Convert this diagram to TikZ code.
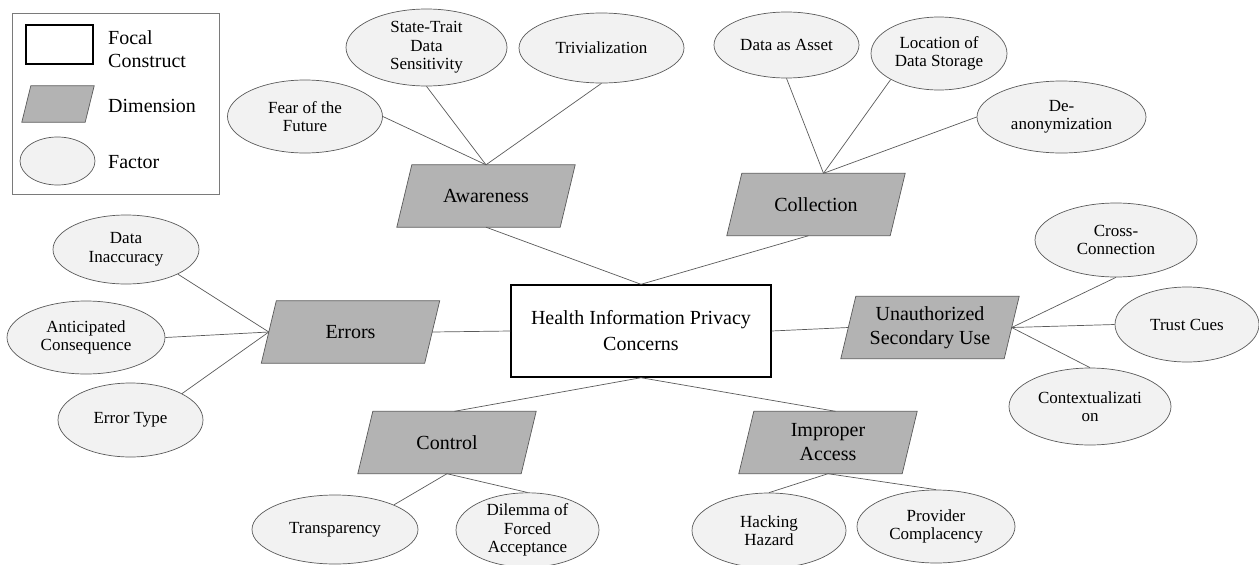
\documentclass[tikz,border=0pt]{standalone}
\usepackage{fontspec}
\setmainfont{Liberation Serif}
\usetikzlibrary{shapes.geometric,backgrounds}
\definecolor{dimfill}{HTML}{B3B3B3}
\definecolor{facfill}{HTML}{F2F2F2}
\definecolor{edgegray}{HTML}{5A5A5A}
\definecolor{framegray}{HTML}{7A7A7A}
% parallelogram behind a dimension node: #1 node name, #2 half of the slant offset
\newcommand\slantbox[2]{%
  \path[dimshape] ([xshift=-#2pt]#1.south west) -- ([xshift=#2pt]#1.north west)
    -- ([xshift=#2pt]#1.north east) -- ([xshift=-#2pt]#1.south east) -- cycle;}
\begin{document}
\begin{tikzpicture}[x=1pt,y=-1pt,
  sz/.style 2 args={minimum width=#1pt, minimum height=#2pt},
  dimension/.style={rectangle, inner sep=0pt, align=center,
    font=\fontsize{20}{24}\selectfont, sz={163}{62}},
  dimshape/.style={draw=edgegray, line width=0.7pt, fill=dimfill, line join=miter},
  factor/.style={ellipse, draw=edgegray, line width=0.7pt, fill=facfill,
    inner sep=0pt, align=center, font=\fontsize{17}{18.5}\selectfont},
  focal/.style={rectangle, draw=black, line width=1.4pt, fill=white, inner sep=0pt,
    align=center, font=\fontsize{20}{26}\selectfont},
  legtext/.style={anchor=west, align=left, inner sep=0pt, font=\fontsize{20}{23}\selectfont},
  link/.style={draw=edgegray, line width=0.7pt},
]
\useasboundingbox (0,0) rectangle (1259,565);

% legend
\node[draw=framegray, line width=0.8pt, sz={206.5}{181}, inner sep=0pt] (legend) at (115.75,103.5) {};
\node[focal, line width=1.2pt, sz={67}{39}] (leg-focal) at (59.5,44.5) {};
\node[dimension, sz={63}{36}] (leg-dim) at (58,104) {};
\node[factor, sz={75}{48}] (leg-fac) at (57.5,161) {};
\node[legtext] (leg-focal-t) at (108,49) {Focal\\Construct};
\node[legtext] (leg-dim-t) at (108,106) {Dimension};
\node[legtext] (leg-fac-t) at (108,162) {Factor};

% focal construct
\node[focal, sz={260}{92}] (hipc) at (641,331) {Health Information Privacy\\Concerns};

% dimensions
\node[dimension] (aw)   at (486,196)   {Awareness};
\node[dimension] (coll) at (816,204.5) {Collection};
\node[dimension] (err)  at (350.5,332) {Errors};
\node[dimension] (una)  at (930,327.5) {Unauthorized\\Secondary Use};
\node[dimension] (ctl)  at (447,442.5) {Control};
\node[dimension] (imp)  at (828,442.5) {Improper\\Access};

\begin{pgfonlayer}{background}
  \slantbox{leg-dim}{4.5}
  \foreach \d in {aw,coll,err,una,ctl,imp} {\slantbox{\d}{7.5}}
\end{pgfonlayer}

% factors
\node[factor, sz={155}{73}] (fear)    at (305,116.5)   {Fear of the\\Future};
\node[factor, sz={161}{77}] (state)   at (426.5,47.5)  {State-Trait\\Data\\Sensitivity};
\node[factor, sz={165}{70}] (triv)    at (601.5,48)    {Trivialization};
\node[factor, sz={145}{66}] (asset)   at (786.5,45)    {Data as Asset};
\node[factor, sz={136}{73}] (loc)     at (939,53.5)    {Location of\\Data Storage};
\node[factor, sz={169}{72}] (deanon)  at (1061.5,117)  {De-\\anonymization};
\node[factor, sz={162}{74}] (cross)   at (1116,240)    {Cross-\\Connection};
\node[factor, sz={144}{75}] (trust)   at (1187,324.5)  {Trust Cues};
\node[factor, sz={162}{77}] (context) at (1090,406.5)  {Contextualizati\\on};
\node[factor, sz={146}{69}] (inacc)   at (126,249.5)   {Data\\Inaccuracy};
\node[factor, sz={158}{73}] (antic)   at (86,337.5)    {Anticipated\\Consequence};
\node[factor, sz={145}{74}] (etype)   at (130.5,420)   {Error Type};
\node[factor, sz={166}{69}] (transp)  at (335,529.5)   {Transparency};
\node[factor, sz={143}{74}] (dilemma) at (527.5,530)   {Dilemma of\\Forced\\Acceptance};
\node[factor, sz={154}{75}] (hack)    at (769,530.5)   {Hacking\\Hazard};
\node[factor, sz={158}{73}] (prov)    at (936,526.5)   {Provider\\Complacency};

% links from the focal construct to its dimensions
\path[link] (hipc.north) -- (aw.south);
\path[link] (hipc.north) -- ([xshift=-7.5pt]coll.south);
\path[link] (hipc.west)  -- (err.east);
\path[link] (hipc.east)  -- (una.west);
\path[link] (hipc.south) -- ([xshift=7.5pt]ctl.north);
\path[link] (hipc.south) -- ([xshift=7.5pt]imp.north);

% links from dimensions to factors
\path[link] (fear.east)          -- (aw.north);
\path[link] (state.south)        -- (aw.north);
\path[link] (triv.south)         -- (aw.north);
\path[link] (asset.south)        -- ([xshift=7.5pt]coll.north);
\path[link] (loc.south west)     -- ([xshift=7.5pt]coll.north);
\path[link] (deanon.west)        -- ([xshift=7.5pt]coll.north);
\path[link] (inacc.south east)   -- (err.west);
\path[link] (antic.east)         -- (err.west);
\path[link] (etype.north east)   -- (err.west);
\path[link] (cross.south)        -- (una.east);
\path[link] (trust.west)         -- (una.east);
\path[link] (context.north)      -- (una.east);
\path[link] (ctl.south)          -- (transp.north east);
\path[link] (ctl.south)          -- (dilemma.north);
\path[link] (imp.south)          -- (hack.north);
\path[link] (imp.south)          -- (prov.north);
\end{tikzpicture}
\end{document}
